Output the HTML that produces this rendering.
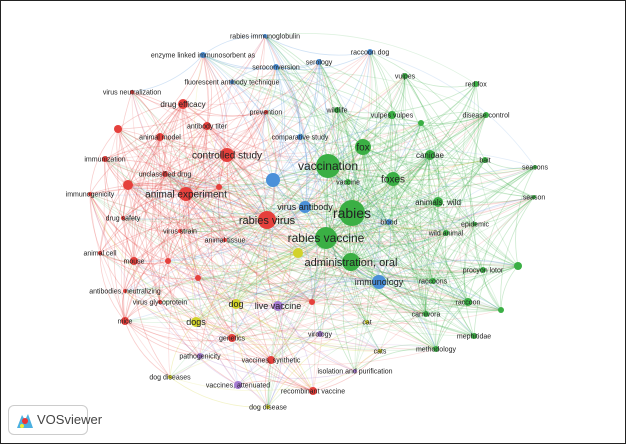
<!DOCTYPE html>
<html><head><meta charset="utf-8"><style>
html,body{margin:0;padding:0;background:#fff}
#w{position:relative;width:624px;height:442px;border:1px solid #222;overflow:hidden;background:#fff}
svg{position:absolute;left:0;top:0}
text{font-family:"Liberation Sans","DejaVu Sans",sans-serif;fill:#222}
#logo{position:absolute;left:7px;top:404px;width:78px;height:28px;border:1px solid #ccc;border-radius:6px;background:#fff;font:13px "Liberation Sans",sans-serif;color:#444}
</style></head><body><div id="w">
<svg id="s" width="624" height="442" viewBox="1 1 624 442"><g id="e"></g><g id="n"></g><g id="t"></g></svg>
<div id="logo"><svg width="20" height="20" style="position:absolute;left:6px;top:4px"><path d="M2 18 L7 5 L10 10 L13 4 L18 18 Z" fill="#4cb0e0"/><circle cx="10" cy="11" r="3" fill="#e33"/><circle cx="7" cy="16" r="2" fill="#ee3"/></svg><span style="position:absolute;left:28px;top:6px">VOSviewer</span></div>
</div>
<script>
var C={r:"#e5403c",g:"#3aaf44",b:"#4a90d9",y:"#d2d22a",p:"#a57bd2"};
var N=[
[267,220,9,"r","rabies virus",11],[227,155,7,"r","controlled study",10],[186,194,7,"r","animal experiment",10],
[183,104,5,"r","drug efficacy",8],[160,137,4,"r","animal model",7],[207,126,4,"r","antibody titer",7],
[132,92,2,"r","virus neutralization",7],[118,129,4,"r","",7],[105,159,3,"r","immunization",7],[165,174,3,"r","unclassified drug",7],
[128,185,5,"r","",7],[219,187,3,"r","",7],[90,194,2,"r","immunogenicity",7],[123,218,2,"r","drug safety",7],
[180,231,2,"r","virus strain",7],[225,240,2,"r","animal tissue",7],[100,253,2,"r","animal cell",7],[134,261,4,"r","mouse",7],
[168,261,3,"r","",7],[198,278,3,"r","",7],[125,291,2,"r","antibodies, neutralizing",7],[160,302,2,"r","virus glycoprotein",7],
[125,321,4,"r","mice",7],[232,338,4,"r","genetics",7],[271,360,4,"r","vaccines, synthetic",7],[313,391,4,"r","recombinant vaccine",7],
[266,112,2,"r","prevention",7],[312,302,3,"r","",7],
[352,213,13,"g","rabies",14],[326,238,11,"g","rabies vaccine",12],[328,166,12,"g","vaccination",12],[351,262,9,"g","administration, oral",11],
[363,147,8,"g","fox",10],[393,179,7,"g","foxes",10],[430,155,5,"g","canidae",8],[438,202,5,"g","animals, wild",8],
[446,233,3,"g","wild animal",7],[475,224,2,"g","epidemic",7],[337,110,3,"g","wildlife",7],[392,115,4,"g","vulpes vulpes",7],
[405,76,3,"g","vulpes",7],[476,84,3,"g","red fox",7],[486,115,3,"g","disease control",7],[421,123,3,"g","",7],
[485,160,3,"g","bait",7],[535,167,2,"g","seasons",7],[534,197,2,"g","season",7],[483,270,3,"g","procyon lotor",7],
[518,266,4,"g","",7],[433,281,3,"g","raccoons",7],[468,302,4,"g","raccoon",7],[501,310,3,"g","",7],
[426,314,3,"g","carnivora",7],[474,336,3,"g","mephitidae",7],[436,349,3,"g","methodology",7],[348,182,3,"g","vaccine",7],
[273,180,7,"b","",7],[305,207,6,"b","virus antibody",9],[379,282,7,"b","immunology",9],[300,137,3,"b","comparative study",7],
[265,36,2,"b","rabies immunoglobulin",7],[203,55,3,"b","enzyme linked immunosorbent as",7],[276,67,3,"b","seroconversion",7],
[319,62,3,"b","serology",7],[370,52,3,"b","raccoon dog",7],[232,82,2,"b","fluorescent antibody technique",7],[389,222,3,"b","blood",7],
[298,253,5,"y","",7],[236,304,5,"y","dog",9],[196,322,5,"y","dogs",9],[367,322,2,"y","cat",7],[380,351,2,"y","cats",7],
[170,377,2,"y","dog diseases",7],[268,407,2,"y","dog disease",7],
[278,306,5,"p","live vaccine",9],[320,334,3,"p","virology",7],[200,356,3,"p","pathogenicity",7],[238,385,4,"p","vaccines, attenuated",7],
[355,371,2,"p","isolation and purification",7]];
var ns="http://www.w3.org/2000/svg",E=document.getElementById("e"),G=document.getElementById("n"),T=document.getElementById("t");
var seed=7;function rnd(){seed=(seed*16807)%2147483647;return seed/2147483647;}
for(var i=0;i<N.length;i++)for(var j=i+1;j<N.length;j++){
 var a=N[i],b=N[j],same=a[3]==b[3];
 var dx=b[0]-a[0],dy=b[1]-a[1],d=Math.sqrt(dx*dx+dy*dy);
 var p=(a[2]+b[2])/(same?14:34)*(d>200?0.6:1);
 if(rnd()<p){
  var s=a[2]>=b[2]?a:b;
  var mx=(a[0]+b[0])/2-dy*0.18,my=(a[1]+b[1])/2+dx*0.18;
  var pa=document.createElementNS(ns,"path");
  pa.setAttribute("d","M"+a[0]+" "+a[1]+"Q"+mx+" "+my+" "+b[0]+" "+b[1]);
  pa.setAttribute("stroke",C[s[3]]);pa.setAttribute("fill","none");
  pa.setAttribute("stroke-opacity",d>180?0.16:0.26);pa.setAttribute("stroke-width",0.8);
  E.appendChild(pa);}
}
N.forEach(function(a){
 var c=document.createElementNS(ns,"circle");c.setAttribute("cx",a[0]);c.setAttribute("cy",a[1]);c.setAttribute("r",a[2]);
 c.setAttribute("fill",C[a[3]]);G.appendChild(c);
 if(a[4]){var t=document.createElementNS(ns,"text");t.setAttribute("x",a[0]);t.setAttribute("y",a[1]+a[5]*0.35);
 t.setAttribute("text-anchor","middle");t.setAttribute("font-size",a[5]);t.textContent=a[4];T.appendChild(t);}
});
</script>
</body></html>
